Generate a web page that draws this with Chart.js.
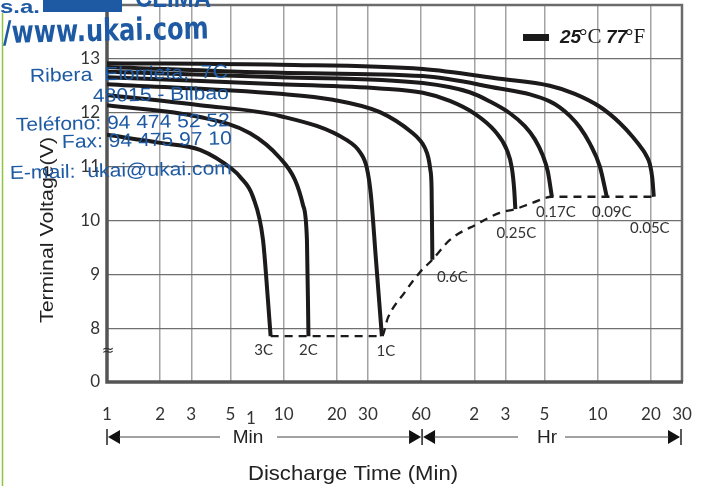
<!DOCTYPE html>
<html>
<head>
<meta charset="utf-8">
<script src="https://cdn.jsdelivr.net/npm/chart.js@4.4.0/dist/chart.umd.min.js"></script>
<style>
  html, body { margin: 0; padding: 0; background: #fff; }
  #wrap { width: 710px; height: 486px; }
</style>
</head>
<body>
<div id="wrap"><canvas id="chart" width="710" height="486"></canvas></div>
<script>
// discharge curves, time in minutes, voltage in V
const rates = ["3C", "2C", "1C", "0.6C", "0.25C", "0.17C", "0.09C", "0.05C"];

const t3C = [1, 2.0, 3.36, 5.16, 5.66, 6.70, 7.64, 8.15, 8.44];
const v3C = [11.59, 11.44, 11.31, 10.94, 10.81, 10.44, 9.64, 8.52, 7.85];

const t2C = [1, 3.36, 6.45, 9.53, 11.6, 12.86, 13.55, 13.82];
const v2C = [12.14, 11.92, 11.62, 11.16, 10.75, 10.29, 9.64, 7.85];

const t1C = [1, 3.36, 9.53, 22.8, 27.0, 29.6, 31.2, 33.3, 36.0];
const v1C = [12.33, 12.14, 11.94, 11.49, 11.27, 10.97, 10.47, 9.28, 7.85];

const t06C = [1, 9.53, 19.0, 35.1, 53.9, 59.1, 63.0, 66.0, 67.7, 68.8, 69.5];
const v06C = [12.53, 12.35, 12.24, 12.01, 11.62, 11.49, 11.35, 11.16, 10.94, 10.60, 9.27];

const t025C = [1, 9.53, 35.1, 61.4, 87.3, 121, 157, 183.5, 196, 202, 205];
const v025C = [12.66, 12.53, 12.45, 12.37, 12.22, 11.98, 11.66, 11.31, 10.97, 10.57, 10.21];

const t017C = [1, 9.53, 61.4, 113, 147, 191, 232, 264, 293, 313, 330];
const v017C = [12.76, 12.66, 12.55, 12.38, 12.21, 11.99, 11.75, 11.51, 11.21, 10.91, 10.44];

const t009C = [1, 9.53, 61.4, 167, 248, 321, 366, 417, 475, 541, 617, 675];
const v009C = [12.85, 12.74, 12.68, 12.45, 12.34, 12.21, 12.10, 11.94, 11.73, 11.43, 11.0, 10.44];

const t005C = [1, 9.53, 61.4, 167, 321, 445, 617, 800, 948, 1080, 1123, 1183, 1222, 1246];
const v005C = [12.92, 12.89, 12.81, 12.63, 12.50, 12.35, 12.11, 11.81, 11.55, 11.31, 11.22, 11.05, 10.79, 10.44];

// final voltage line (dashed)
const tEnd = [8.44, 36.0, 38.9, 48.6, 59.1, 69.5, 87.3, 124, 167, 205, 258, 330, 1246];
const vEnd = [7.85, 7.85, 8.19, 8.67, 9.04, 9.27, 9.64, 9.93, 10.14, 10.21, 10.33, 10.44, 10.44];

const xTickValues = [1, 2, 3, 5, 10, 20, 30, 60, 120, 180, 300, 600, 1200, 1800];
const xTickLabels = ["1", "2", "3", "5", "10", "20", "30", "60", "2", "3", "5", "10", "20", "30"];
const yTickValues = [7, 8, 9, 10, 11, 12, 13];
const yTickLabels = ["0", "8", "9", "10", "11", "12", "13"];

const times = [t3C, t2C, t1C, t06C, t025C, t017C, t009C, t005C];
const volts = [v3C, v2C, v1C, v06C, v025C, v017C, v009C, v005C];

const toPoints = (ts, vs) => ts.map((t, i) => ({ x: t, y: vs[i] }));

// where each rate label sits relative to the end of its curve
const labelOffsets = [[-7, 14], [0, 14], [4, 15], [20, 17], [1, 24], [4, 15], [5, 15], [-4, 31]];

const blue = "#1d5aa3";

function fitText(ctx, txt, x, y, w, font, color, rot) {
  ctx.save();
  ctx.font = font;
  const m = ctx.measureText(txt).width;
  ctx.translate(x, y);
  if (rot) ctx.rotate(rot);
  ctx.scale(w / m, 1);
  ctx.fillStyle = color;
  ctx.textAlign = "left";
  ctx.textBaseline = "alphabetic";
  ctx.fillText(txt, 0, 0);
  ctx.restore();
}

function arrowHead(ctx, tipX, y, dir) {
  ctx.beginPath();
  ctx.moveTo(tipX, y);
  ctx.lineTo(tipX - dir * 12, y - 7);
  ctx.lineTo(tipX - dir * 12, y + 7);
  ctx.closePath();
  ctx.fill();
}

const frame = {
  id: "frame",
  beforeDatasetsDraw(chart) {
    const { ctx, chartArea: a } = chart;
    ctx.save();
    ctx.strokeStyle = "#6b6b6b";
    ctx.lineWidth = 2.5;
    ctx.beginPath();
    ctx.moveTo(a.left, a.top);
    ctx.lineTo(a.right, a.top);
    ctx.lineTo(a.right, a.bottom);
    ctx.stroke();
    ctx.strokeStyle = "#555";
    ctx.lineWidth = 3.5;
    ctx.beginPath();
    ctx.moveTo(a.left, a.top);
    ctx.lineTo(a.left, a.bottom);
    ctx.lineTo(a.right + 1, a.bottom);
    ctx.stroke();
    ctx.restore();
  },
  afterDraw(chart) {
    const { ctx, chartArea: a } = chart;
    const xs = chart.scales.x, ys = chart.scales.y;
    ctx.save();

    // tick labels
    ctx.fillStyle = "#333";
    ctx.font = "17px Lato";
    ctx.textAlign = "right";
    ctx.textBaseline = "middle";
    yTickValues.forEach((v, i) => ctx.fillText(yTickLabels[i], a.left - 7, ys.getPixelForValue(v)));
    ctx.textAlign = "center";
    xTickValues.forEach((v, i) => ctx.fillText(xTickLabels[i], xs.getPixelForValue(v), 415));
    ctx.fillText("1", 251, 419);
    ctx.font = "15px 'DejaVu Sans'";
    ctx.fillText("\u2248", a.left + 1, ys.getPixelForValue(7.57));

    // rate labels
    ctx.font = "15px Lato";
    ctx.fillStyle = "#333";
    rates.forEach((r, i) => {
      const n = times[i].length - 1;
      const px = xs.getPixelForValue(times[i][n]);
      const py = ys.getPixelForValue(volts[i][n]);
      ctx.fillText(r, px + labelOffsets[i][0], py + labelOffsets[i][1]);
    });

    // Min / Hr arrows
    const x1 = xs.getPixelForValue(1), x60 = xs.getPixelForValue(60), xe = xs.getPixelForValue(1800);
    const ay = 437;
    ctx.strokeStyle = "#222";
    ctx.fillStyle = "#111";
    ctx.lineWidth = 1.5;
    [x1, x60 + 1, xe - 1].forEach(x => {
      ctx.beginPath(); ctx.moveTo(x, ay - 8); ctx.lineTo(x, ay + 8); ctx.stroke();
    });
    arrowHead(ctx, x1 + 1, ay, -1);
    arrowHead(ctx, x60, ay, 1);
    arrowHead(ctx, x60 + 2, ay, -1);
    arrowHead(ctx, xe - 2, ay, 1);
    ctx.lineWidth = 1;
    ctx.strokeStyle = "#444";
    ctx.beginPath();
    ctx.moveTo(x1 + 12, ay); ctx.lineTo(220, ay);
    ctx.moveTo(277, ay); ctx.lineTo(x60 - 11, ay);
    ctx.moveTo(x60 + 13, ay); ctx.lineTo(518, ay);
    ctx.moveTo(565, ay); ctx.lineTo(xe - 13, ay);
    ctx.stroke();
    ctx.fillStyle = "#222";
    ctx.font = "19px 'Liberation Sans'";
    ctx.textBaseline = "middle";
    ctx.fillText("Min", 248, ay + 1);
    ctx.fillText("Hr", 547, ay + 1);

    // axis titles
    fitText(ctx, "Discharge Time (Min)", 248, 480, 210, "21px 'Liberation Sans'", "#222");
    ctx.save();
    ctx.translate(53, 323);
    ctx.rotate(-Math.PI / 2);
    fitText(ctx, "Terminal Voltage(V)", 0, 0, 186, "19px 'Liberation Sans'", "#222");
    ctx.restore();

    // legend
    ctx.fillStyle = "#1a1a1a";
    ctx.fillRect(523, 34, 26, 7);
    ctx.textAlign = "left";
    ctx.textBaseline = "alphabetic";
    ctx.font = "bold italic 19px 'Liberation Sans'";
    ctx.fillText("25", 560, 43);
    ctx.fillText("77", 606, 43);
    ctx.font = "21px 'Liberation Serif'";
    ctx.fillText("\u00B0C", 579, 43);
    ctx.fillText("\u00B0F", 625, 43);

    // stamp over the picture
    ctx.strokeStyle = "#8cc63f";
    ctx.lineWidth = 1.5;
    ctx.beginPath(); ctx.moveTo(2.5, 13); ctx.lineTo(2.5, 486); ctx.stroke();
    ctx.fillStyle = blue;
    ctx.fillRect(43, 0, 79, 12);
    fitText(ctx, "s.a.", 0, 13, 40, "bold 19px 'Liberation Sans'", blue);
    fitText(ctx, "CLIMA", 135, 7, 76, "bold 30px 'Liberation Sans'", blue);
    const rot = -0.022;
    fitText(ctx, "/www.ukai.com", 3, 43, 206, "bold 31px 'DejaVu Sans'", blue, rot);
    fitText(ctx, "Ribera  Elorrieta,  7C", 30, 82, 198, "19px 'Liberation Sans'", blue, rot);
    fitText(ctx, "48015 - Bilbao", 93, 102, 136, "19px 'Liberation Sans'", blue, rot);
    fitText(ctx, "Tel\u00E9fono: 94 474 52 52", 16, 131, 214, "19px 'Liberation Sans'", blue, rot);
    fitText(ctx, "Fax: 94 475 97 10", 62, 148, 170, "19px 'Liberation Sans'", blue, rot);
    fitText(ctx, "E-mail:  ukai@ukai.com", 10, 179, 222, "19px 'Liberation Sans'", blue, rot);
    ctx.restore();
  }
};

const curveSets = rates.map((r, i) => ({
  label: r,
  data: toPoints(times[i], volts[i]),
  borderColor: "#1c1a1a",
  borderWidth: 4,
  pointRadius: 0,
  cubicInterpolationMode: "monotone",
  fill: false
}));

curveSets.push({
  label: "end",
  data: toPoints(tEnd, vEnd),
  borderColor: "#1c1a1a",
  borderWidth: 2.3,
  borderDash: [8, 6],
  pointRadius: 0,
  cubicInterpolationMode: "monotone",
  fill: false
});

new Chart("chart", {
  type: "line",
  data: { datasets: curveSets },
  options: {
    responsive: false,
    animation: false,
    layout: { padding: { left: 107, right: 28, top: 5, bottom: 104 } },
    plugins: { legend: { display: false }, tooltip: { enabled: false } },
    scales: {
      x: {
        type: "logarithmic",
        min: 1,
        max: 1800,
        afterBuildTicks: (scale) => { scale.ticks = xTickValues.map(v => ({ value: v })); },
        ticks: { display: false },
        grid: { color: "#a3a3a3", lineWidth: 1.5, drawTicks: false },
        border: { display: false }
      },
      y: {
        min: 7,
        max: 14,
        ticks: { display: false, stepSize: 1 },
        grid: { color: "#707070", lineWidth: 1.2, drawTicks: false },
        border: { display: false }
      }
    }
  },
  plugins: [frame]
});
</script>
</body>
</html>
